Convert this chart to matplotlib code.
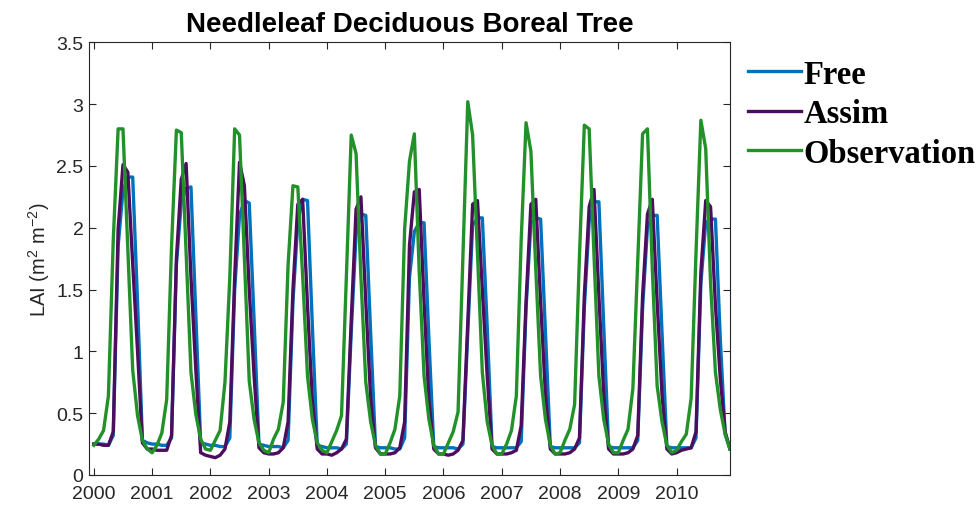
import numpy as np
import matplotlib
matplotlib.use("Agg")
import matplotlib.pyplot as plt

# monthly LAI, Jan 2000 .. Dec 2010
years = list(range(2000, 2011))

free = [
    0.25, 0.25, 0.25, 0.24, 0.32, 1.85, 2.30, 2.41, 2.41, 1.40, 0.28, 0.26,  # 2000
    0.25, 0.25, 0.24, 0.24, 0.30, 1.70, 2.20, 2.32, 2.33, 1.30, 0.26, 0.25,  # 2001
    0.24, 0.24, 0.23, 0.23, 0.30, 1.50, 2.10, 2.22, 2.20, 1.25, 0.25, 0.24,  # 2002
    0.23, 0.23, 0.23, 0.22, 0.28, 1.40, 2.05, 2.23, 2.22, 1.20, 0.24, 0.23,  # 2003
    0.22, 0.22, 0.22, 0.21, 0.25, 1.15, 1.95, 2.11, 2.10, 1.15, 0.23, 0.22,  # 2004
    0.22, 0.22, 0.21, 0.21, 0.30, 1.60, 1.97, 2.04, 2.04, 1.10, 0.23, 0.22,  # 2005
    0.22, 0.22, 0.22, 0.21, 0.25, 1.15, 2.02, 2.08, 2.08, 1.20, 0.23, 0.22,  # 2006
    0.22, 0.22, 0.22, 0.22, 0.27, 1.35, 2.04, 2.08, 2.07, 1.15, 0.23, 0.22,  # 2007
    0.22, 0.22, 0.22, 0.22, 0.26, 1.35, 2.05, 2.21, 2.21, 1.20, 0.23, 0.22,  # 2008
    0.22, 0.22, 0.22, 0.22, 0.28, 1.35, 2.00, 2.10, 2.10, 1.15, 0.23, 0.22,  # 2009
    0.22, 0.22, 0.22, 0.22, 0.30, 1.55, 2.04, 2.07, 2.07, 1.10, 0.33, 0.21,  # 2010
]

assim = [
    0.25, 0.25, 0.24, 0.24, 0.35, 1.99, 2.51, 2.45, 1.71, 1.00, 0.26, 0.21,
    0.21, 0.20, 0.20, 0.20, 0.32, 1.75, 2.39, 2.52, 1.60, 0.85, 0.18, 0.16,
    0.15, 0.14, 0.16, 0.21, 0.43, 1.60, 2.53, 2.34, 1.50, 0.80, 0.22, 0.18,
    0.17, 0.17, 0.18, 0.22, 0.43, 1.50, 2.19, 2.23, 1.37, 0.60, 0.21, 0.17,
    0.17, 0.16, 0.18, 0.21, 0.29, 1.25, 2.15, 2.25, 1.40, 0.62, 0.22, 0.17,
    0.17, 0.17, 0.18, 0.22, 0.43, 1.86, 2.29, 2.31, 1.40, 0.60, 0.21, 0.17,
    0.17, 0.16, 0.17, 0.20, 0.28, 1.24, 2.19, 2.22, 1.50, 0.80, 0.21, 0.17,
    0.17, 0.17, 0.18, 0.20, 0.40, 1.40, 2.19, 2.23, 1.40, 0.65, 0.21, 0.17,
    0.17, 0.17, 0.18, 0.21, 0.30, 1.45, 2.17, 2.31, 1.45, 0.65, 0.21, 0.17,
    0.17, 0.17, 0.18, 0.21, 0.32, 1.45, 2.11, 2.23, 1.40, 0.65, 0.21, 0.17,
    0.18, 0.20, 0.21, 0.22, 0.35, 1.64, 2.22, 2.17, 1.37, 0.78, 0.35, 0.21,
]

obs = [
    0.24, 0.29, 0.36, 0.64, 1.90, 2.80, 2.80, 1.83, 0.85, 0.48, 0.28, 0.21,
    0.18, 0.24, 0.34, 0.61, 1.85, 2.79, 2.77, 1.80, 0.83, 0.49, 0.29, 0.21,
    0.20, 0.28, 0.36, 0.75, 1.60, 2.80, 2.75, 1.75, 0.76, 0.45, 0.26, 0.20,
    0.18, 0.29, 0.37, 0.59, 1.70, 2.34, 2.33, 1.61, 0.80, 0.45, 0.26, 0.20,
    0.18, 0.27, 0.36, 0.48, 1.60, 2.75, 2.60, 1.60, 0.75, 0.43, 0.24, 0.17,
    0.17, 0.26, 0.37, 0.64, 1.99, 2.54, 2.76, 1.65, 0.80, 0.45, 0.24, 0.17,
    0.17, 0.26, 0.35, 0.51, 1.77, 3.02, 2.75, 1.79, 0.83, 0.43, 0.24, 0.17,
    0.17, 0.25, 0.36, 0.64, 1.90, 2.85, 2.62, 1.67, 0.80, 0.45, 0.24, 0.17,
    0.18, 0.28, 0.37, 0.57, 1.77, 2.83, 2.80, 1.77, 0.80, 0.45, 0.25, 0.18,
    0.18, 0.28, 0.37, 0.70, 1.72, 2.76, 2.80, 1.67, 0.72, 0.43, 0.24, 0.18,
    0.20, 0.27, 0.33, 0.62, 1.80, 2.87, 2.64, 1.55, 0.83, 0.53, 0.33, 0.21,
]

yticks = [0, 0.5, 1, 1.5, 2, 2.5, 3, 3.5]
ytick_labels = ['0', '0.5', '1', '1.5', '2', '2.5', '3', '3.5']

plt.rcParams['font.family'] = ['Liberation Sans', 'DejaVu Sans']
plt.rcParams['mathtext.fontset'] = 'custom'
plt.rcParams['mathtext.rm'] = 'Liberation Sans'
plt.rcParams['mathtext.it'] = 'Liberation Sans:italic'

t = years[0] + np.arange(len(obs)) / 12.0

fig = plt.figure(figsize=(9.8, 5.1), dpi=100)
ax = fig.add_axes([0.0908, 0.0667, 0.6541, 0.8483])

ax.plot(t, free, color='#0072BD', lw=2.4, label='Free')
ax.plot(t, assim, color='#4D0D5E', lw=2.4, label='Assim')
ax.plot(t, obs, color='#22912A', lw=2.4, label='Observation')

ax.set_xlim(years[0] - 1 / 12, t[-1])
ax.set_ylim(0, 3.5)
ax.set_xticks(years)
ax.set_xticklabels([str(y) for y in years])
ax.set_yticks(yticks)
ax.set_yticklabels(ytick_labels)
ax.tick_params(direction='in', top=True, right=True, labelsize=14,
               colors='#262626', width=0.8, length=5)
ax.tick_params(axis='x', pad=7)
ax.tick_params(axis='y', pad=4)
for s in ax.spines.values():
    s.set_color('#262626')
    s.set_linewidth(0.8)

ax.set_ylabel('LAI (m$^{2}$ m$^{-2}$)', fontsize=14.5, color='#262626', labelpad=3)
ax.set_title('Needleleaf Deciduous Boreal Tree', fontsize=20, fontweight='bold', pad=8)

fig.legend(loc='upper left', bbox_to_anchor=(0.747, 0.915), frameon=False,
           prop={'family': 'Liberation Serif', 'weight': 'bold', 'size': 23.5},
           handlelength=1.6, handletextpad=0.1, labelspacing=0.26, borderpad=0)

fig.savefig('out.png', dpi=100)
